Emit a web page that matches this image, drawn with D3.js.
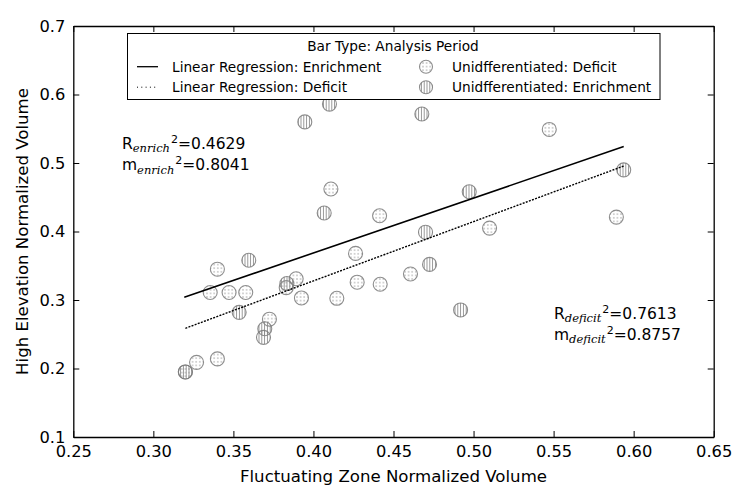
<!DOCTYPE html>
<html>
<head>
<meta charset="utf-8">
<script src="https://cdn.jsdelivr.net/npm/d3@7"></script>
<style>
 body { margin: 0; background: #fff; }
 text { font-family: "DejaVu Sans", sans-serif; fill: #000; }
</style>
</head>
<body>
<div id="chart"></div>
<script>
// values
var xTicks = [0.25, 0.30, 0.35, 0.40, 0.45, 0.50, 0.55, 0.60, 0.65];
var yTicks = [0.1, 0.2, 0.3, 0.4, 0.5, 0.6, 0.7];

var deficitX = [0.320, 0.327, 0.340, 0.340, 0.3355, 0.3473, 0.3577, 0.3892, 0.383, 0.3925, 0.3725,
                0.4109, 0.4413, 0.510, 0.4263, 0.4606, 0.4273, 0.4417, 0.4146, 0.5473, 0.5892];
var deficitY = [0.195, 0.209, 0.214, 0.345, 0.311, 0.311, 0.311, 0.331, 0.318, 0.303, 0.272,
                0.462, 0.423, 0.405, 0.368, 0.338, 0.326, 0.323, 0.3025, 0.549, 0.421];

var enrichX = [0.320, 0.3596, 0.3536, 0.3834, 0.3696, 0.3688, 0.4067, 0.470, 0.4725, 0.4919,
               0.410, 0.3946, 0.4677, 0.4973, 0.5938];
var enrichY = [0.195, 0.358, 0.282, 0.324, 0.258, 0.2455, 0.427, 0.399, 0.352, 0.2855,
               0.586, 0.560, 0.5715, 0.458, 0.490];

// fitted line end points
var enrichFitX = [0.3193, 0.5938], enrichFitY = [0.304, 0.524];
var deficitFitX = [0.320, 0.5938], deficitFitY = [0.2587, 0.4956];

var legendTitle = "Bar Type: Analysis Period";
var legendLines = ["Linear Regression: Enrichment", "Linear Regression: Deficit"];
var legendMarks = ["Unidfferentiated: Deficit", "Unidfferentiated: Enrichment"];

var w = 750, h = 500,
    L = 73.3, R = 713.7, T = 26, B = 437;

var svg = d3.select("#chart").append("svg").attr("width", w).attr("height", h);

var defs = svg.append("defs");
var dots = defs.append("pattern").attr("id", "dots").attr("patternUnits", "userSpaceOnUse")
    .attr("width", 3.6).attr("height", 3.6);
dots.append("circle").attr("cx", 1.8).attr("cy", 1.8).attr("r", 0.65).attr("fill", "#8a8a8a");
var vlines = defs.append("pattern").attr("id", "vlines").attr("patternUnits", "userSpaceOnUse")
    .attr("width", 2.8).attr("height", 4);
vlines.append("line").attr("x1", 1.4).attr("x2", 1.4).attr("y1", 0).attr("y2", 4)
    .attr("stroke", "#8a8a8a").attr("stroke-width", 0.9);

var x = d3.scaleLinear().domain([0.25, 0.65]).range([L, R]);
var y = d3.scaleLinear().domain([0.1, 0.7]).range([B, T]);

// axes, ticks pointing inward on all four sides
svg.append("g").attr("transform", "translate(0," + B + ")")
    .call(d3.axisBottom(x).tickValues(xTicks).tickFormat(d3.format(".2f")).tickSizeInner(-6).tickSizeOuter(0).tickPadding(8));
svg.append("g").attr("transform", "translate(" + L + ",0)")
    .call(d3.axisLeft(y).tickValues(yTicks).tickFormat(d3.format(".1f")).tickSizeInner(-6).tickSizeOuter(0).tickPadding(8));
svg.append("g").attr("transform", "translate(0," + T + ")")
    .call(d3.axisTop(x).tickValues(xTicks).tickFormat("").tickSizeInner(-6).tickSizeOuter(0));
svg.append("g").attr("transform", "translate(" + R + ",0)")
    .call(d3.axisRight(y).tickValues(yTicks).tickFormat("").tickSizeInner(-6).tickSizeOuter(0));
svg.selectAll(".domain").attr("stroke", "#000").attr("stroke-width", 1.3);
svg.selectAll(".tick line").attr("stroke", "#000");
svg.selectAll(".tick text").attr("font-size", "16.3px").attr("font-family", "DejaVu Sans");

svg.append("text").attr("x", (L + R) / 2).attr("y", 482).attr("text-anchor", "middle")
    .attr("font-size", "16.6px").text("Fluctuating Zone Normalized Volume");
svg.append("text").attr("transform", "translate(28," + ((T + B) / 2) + ") rotate(-90)")
    .attr("text-anchor", "middle").attr("font-size", "16.6px").text("High Elevation Normalized Volume");

// scatter points
function drawPoints(xs, ys, fill) {
  svg.append("g").selectAll("circle").data(d3.range(xs.length)).join("circle")
      .attr("cx", function (i) { return x(xs[i]); })
      .attr("cy", function (i) { return y(ys[i]); })
      .attr("r", 7)
      .attr("fill", fill)
      .attr("stroke", "#7a7a7a").attr("stroke-opacity", 0.85).attr("stroke-width", 1.1);
}
drawPoints(deficitX, deficitY, "url(#dots)");
drawPoints(enrichX, enrichY, "url(#vlines)");

// regression lines
var line = d3.line().x(function (d) { return x(d[0]); }).y(function (d) { return y(d[1]); });
svg.append("path").datum(d3.zip(enrichFitX, enrichFitY)).attr("d", line)
    .attr("fill", "none").attr("stroke", "#000").attr("stroke-width", 1.6);
svg.append("path").datum(d3.zip(deficitFitX, deficitFitY)).attr("d", line)
    .attr("fill", "none").attr("stroke", "#000").attr("stroke-width", 1.4).attr("stroke-dasharray", "2,1.3");

// annotations
function note(px, py, main, sub, val) {
  var t = svg.append("text").attr("x", px).attr("y", py).attr("font-size", "15.5px");
  t.append("tspan").text(main);
  t.append("tspan").attr("dy", 3.5).attr("font-size", "11.5px").attr("font-style", "italic")
      .attr("font-family", "DejaVu Serif").text(sub);
  t.append("tspan").attr("dy", -9.5).attr("dx", 1).attr("font-size", "11px").text("2");
  t.append("tspan").attr("dy", 6).text(val);
}
note(122, 148.5, "R", "enrich", "=0.4629");
note(122, 170, "m", "enrich", "=0.8041");
note(554, 318.5, "R", "deficit", "=0.7613");
note(554, 339.5, "m", "deficit", "=0.8757");

// legend
var lg = svg.append("g");
lg.append("rect").attr("x", 127.5).attr("y", 33.5).attr("width", 532.5).attr("height", 66)
    .attr("fill", "#fff").attr("stroke", "#000").attr("stroke-width", 1);
lg.append("text").attr("x", 393).attr("y", 50.5).attr("text-anchor", "middle").attr("font-size", "13.7px").text(legendTitle);
var rowsY = [71.5, 92];
lg.selectAll("line.s").data(legendLines).join("line")
    .attr("x1", 137).attr("x2", 158)
    .attr("y1", function (d, i) { return rowsY[i] - 4.8; })
    .attr("y2", function (d, i) { return rowsY[i] - 4.8; })
    .attr("stroke", "#000").attr("stroke-width", function (d, i) { return i ? 1 : 1.3; })
    .attr("stroke-dasharray", function (d, i) { return i ? "1,3.3" : null; });
lg.selectAll("text.l").data(legendLines).join("text").attr("class", "l")
    .attr("x", 172).attr("y", function (d, i) { return rowsY[i]; })
    .attr("font-size", "13.7px").text(function (d) { return d; });
lg.selectAll("circle").data(legendMarks).join("circle")
    .attr("cx", 426).attr("cy", function (d, i) { return rowsY[i] - 4.8; }).attr("r", 6.5)
    .attr("fill", function (d, i) { return i ? "url(#vlines)" : "url(#dots)"; })
    .attr("stroke", "#7a7a7a").attr("stroke-opacity", 0.85).attr("stroke-width", 1.1);
lg.selectAll("text.m").data(legendMarks).join("text").attr("class", "m")
    .attr("x", 452).attr("y", function (d, i) { return rowsY[i]; })
    .attr("font-size", "13.7px").text(function (d) { return d; });
</script>
</body>
</html>
